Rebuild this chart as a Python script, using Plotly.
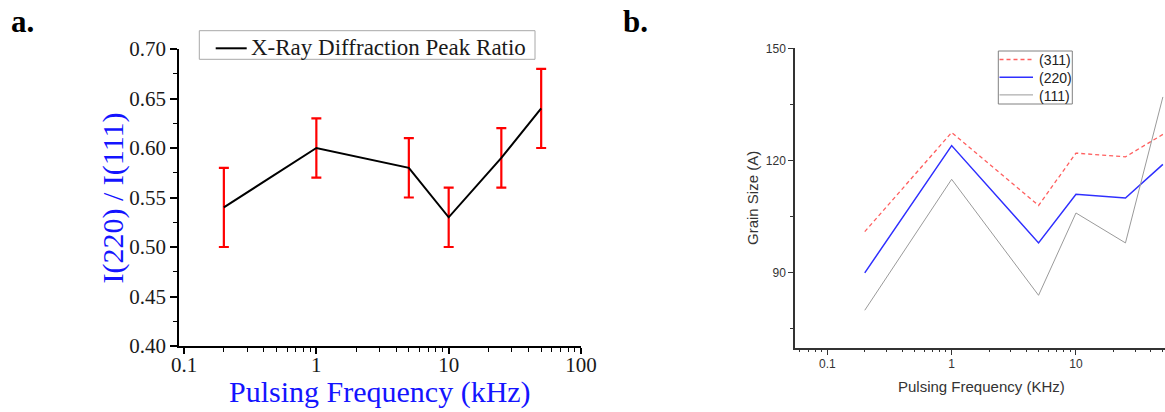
import plotly.graph_objects as go

W, H = 1165, 412

# Panel a: XRD peak ratio vs pulsing frequency
freq_a = [0.2, 1, 5, 10, 25, 50]
ratio = [0.54, 0.60, 0.58, 0.53, 0.59, 0.64]
ratio_err = [0.04, 0.03, 0.03, 0.03, 0.03, 0.04]
name_a = "X-Ray Diffraction Peak Ratio"

# Panel b: grain size per reflection vs pulsing frequency
freq_b = [0.2, 1, 5, 10, 25, 50]
grain_311 = [101, 127.5, 108, 122, 121, 127]
grain_220 = [90, 124, 98, 111, 110, 119]
grain_111 = [80, 115, 84, 106, 98, 137]
names_b = ["(311)", "(220)", "(111)"]

xticks_a = [0.1, 1, 10, 100]
xticklabels_a = ["0.1", "1", "10", "100"]
xticks_b = [0.1, 1, 10]
xticklabels_b = ["0.1", "1", "10"]

minor_log = [m * 10 ** e for e in range(-2, 2) for m in range(2, 10)]


def px_x(p):
    return p / W


def px_y(p):
    return 1 - p / H


SERIF = "Liberation Serif"
SANS = "Liberation Sans"
BLUE_TITLE = "#1414ff"

styles_b = [
    dict(color="#ff5f5f", width=1.3, dash="4px,3px"),
    dict(color="#2f2fff", width=1.5, dash="solid"),
    dict(color="#9a9a9a", width=1, dash="solid"),
]

fig = go.Figure()

fig.add_trace(go.Scatter(
    x=freq_a, y=ratio, mode="lines", name=name_a,
    line=dict(color="black", width=2),
    error_y=dict(type="data", array=ratio_err, color="#ff0000", thickness=2.2, width=5),
    xaxis="x", yaxis="y",
))

for name, vals, st in zip(names_b, [grain_311, grain_220, grain_111], styles_b):
    fig.add_trace(go.Scatter(
        x=freq_b, y=vals, mode="lines", name=name, line=st,
        xaxis="x2", yaxis="y2",
    ))

shapes = []
annotations = []

# legend box for panel a
shapes.append(dict(type="rect", xref="paper", yref="paper",
                   x0=px_x(199.3), x1=px_x(535), y0=px_y(59.3), y1=px_y(30.7),
                   line=dict(color="#a8a8a8", width=1), fillcolor="white", layer="above"))
shapes.append(dict(type="line", xref="paper", yref="paper",
                   x0=px_x(215.7), x1=px_x(246.7), y0=px_y(48.3), y1=px_y(48.3),
                   line=dict(color="black", width=2), layer="above"))
annotations.append(dict(text=name_a, x=px_x(249), y=px_y(47.5), xref="paper", yref="paper",
                        xanchor="left", yanchor="middle", showarrow=False,
                        font=dict(family=SERIF, size=23, color="#1a1a1a")))

# legend box for panel b
shapes.append(dict(type="rect", xref="paper", yref="paper",
                   x0=px_x(998.3), x1=px_x(1072.3), y0=px_y(104), y1=px_y(51),
                   line=dict(color="#808080", width=1), fillcolor="white", layer="above"))
for i, (name, st) in enumerate(zip(names_b, styles_b)):
    ly = 59.5 + i * 17.7
    shapes.append(dict(type="line", xref="paper", yref="paper",
                       x0=px_x(999.5), x1=px_x(1033), y0=px_y(ly), y1=px_y(ly),
                       line=dict(color=st["color"], width=st["width"], dash=st["dash"]),
                       layer="above"))
    annotations.append(dict(text=name, x=px_x(1036.5), y=px_y(ly + 1), xref="paper", yref="paper",
                            xanchor="left", yanchor="middle", showarrow=False,
                            font=dict(family=SANS, size=14, color="#222222")))

# axis titles
annotations += [
    dict(text="Pulsing Frequency (kHz)", x=px_x(380), y=px_y(392), xref="paper", yref="paper",
         xanchor="center", yanchor="middle", showarrow=False,
         font=dict(family=SERIF, size=30, color=BLUE_TITLE)),
    dict(text="I(220) / I(111)", x=px_x(112.5), y=px_y(198), xref="paper", yref="paper",
         xanchor="center", yanchor="middle", showarrow=False, textangle=-90,
         font=dict(family=SERIF, size=30, color=BLUE_TITLE)),
    dict(text="Pulsing Frequency (KHz)", x=px_x(981), y=px_y(386), xref="paper", yref="paper",
         xanchor="center", yanchor="middle", showarrow=False,
         font=dict(family=SANS, size=15, color="#333333")),
    dict(text="Grain Size (A)", x=px_x(752), y=px_y(198), xref="paper", yref="paper",
         xanchor="center", yanchor="middle", showarrow=False, textangle=-90,
         font=dict(family=SANS, size=15, color="#333333")),
    # panel letters
    dict(text="<b>a.</b>", x=px_x(9), y=px_y(2), xref="paper", yref="paper",
         xanchor="left", yanchor="top", showarrow=False,
         font=dict(family=SERIF, size=31, color="black")),
    dict(text="<b>b.</b>", x=px_x(621), y=px_y(2), xref="paper", yref="paper",
         xanchor="left", yanchor="top", showarrow=False,
         font=dict(family=SERIF, size=31, color="black")),
]

fig.update_layout(
    width=W, height=H,
    margin=dict(l=0, r=0, t=0, b=0, autoexpand=False),
    paper_bgcolor="white", plot_bgcolor="white",
    showlegend=False,
    xaxis=dict(
        type="log", domain=[px_x(179), px_x(581)], range=[-1.038, 2.0],
        automargin=False,
        showline=True, linecolor="black", linewidth=1.5, mirror=False,
        showgrid=False, zeroline=False,
        tickmode="array", tickvals=xticks_a, ticktext=xticklabels_a,
        ticks="outside", ticklen=6, tickwidth=1.5, tickcolor="black",
        minor=dict(tickmode="array", tickvals=minor_log, ticks="outside",
                   ticklen=4, tickwidth=1, tickcolor="black", showgrid=False),
        tickfont=dict(family=SERIF, size=21, color="#1a1a1a"),
        ticklabelstandoff=-7,
        anchor="y",
    ),
    yaxis=dict(
        domain=[px_y(346), px_y(49)], range=[0.40, 0.70],
        automargin=False,
        showline=True, linecolor="black", linewidth=1.5,
        showgrid=False, zeroline=False,
        tickmode="linear", tick0=0.40, dtick=0.05, tickformat=".2f",
        ticks="outside", ticklen=7, tickwidth=1.5, tickcolor="black",
        minor=dict(dtick=0.025, ticks="outside", ticklen=4, tickwidth=1,
                   tickcolor="black", showgrid=False),
        tickfont=dict(family=SERIF, size=21, color="#1a1a1a"),
        anchor="x",
    ),
    xaxis2=dict(
        type="log", domain=[px_x(795), 1.0], range=[-1.26, 1.716],
        automargin=False,
        showline=True, linecolor="#333333", linewidth=1.5,
        showgrid=False, zeroline=False,
        tickmode="array", tickvals=xticks_b, ticktext=xticklabels_b,
        ticks="outside", ticklen=6, tickwidth=1.2, tickcolor="#333333",
        minor=dict(tickmode="array", tickvals=minor_log, ticks="outside",
                   ticklen=3, tickwidth=1, tickcolor="#333333", showgrid=False),
        tickfont=dict(family=SANS, size=12, color="#333333"),
        ticklabelstandoff=-2,
        anchor="y2",
    ),
    yaxis2=dict(
        domain=[px_y(347.7), px_y(48.3)], range=[70, 150],
        automargin=False,
        showline=True, linecolor="#333333", linewidth=1.5,
        showgrid=False, zeroline=False,
        tickmode="linear", tick0=0, dtick=30,
        ticks="outside", ticklen=5, tickwidth=1.2, tickcolor="#333333",
        minor=dict(dtick=15, tick0=0, ticks="outside", ticklen=3, tickwidth=1,
                   tickcolor="#333333", showgrid=False),
        tickfont=dict(family=SANS, size=12, color="#333333"),
        anchor="x2",
    ),
    shapes=shapes,
    annotations=annotations,
)

fig.write_html("out.html")
